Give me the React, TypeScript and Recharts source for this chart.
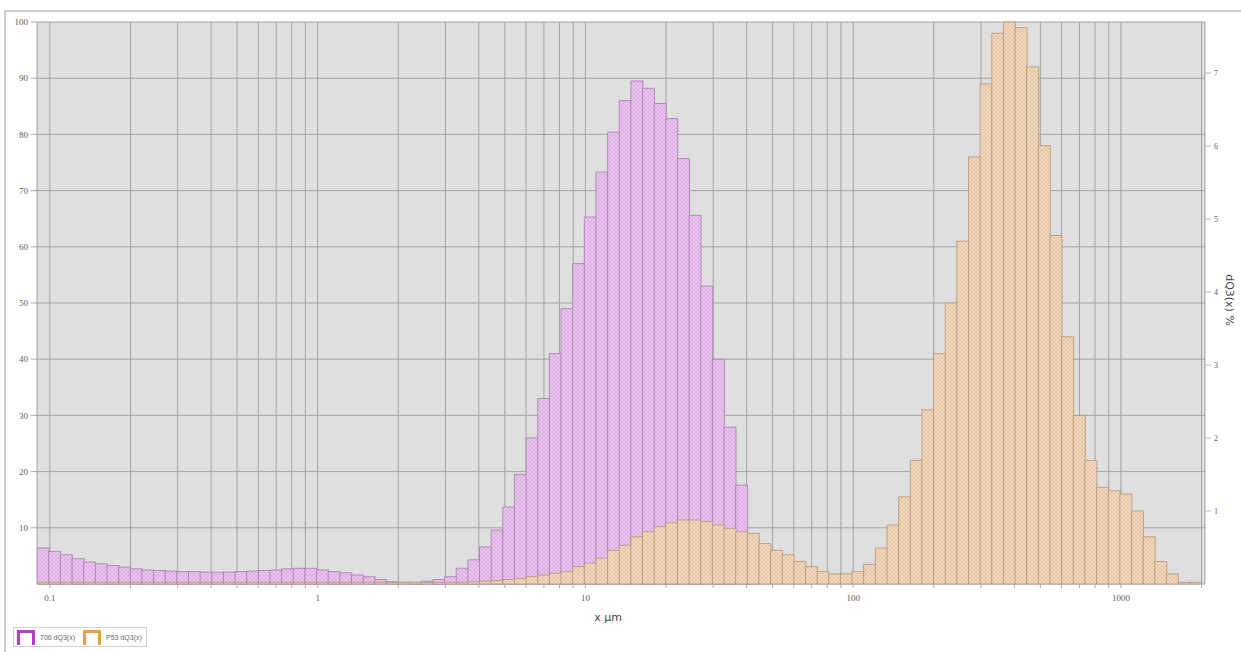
import React from 'react';
import { ComposedChart, Bar, XAxis, YAxis, CartesianGrid, Label } from 'recharts';

// bin centres, µm (log-spaced classes)
const sizes = [
  0.09417, 0.1041, 0.1150, 0.1272, 0.1406, 0.1554, 0.1717, 0.1898, 0.2098, 0.2319, 0.2563, 0.2833,
  0.3131, 0.3461, 0.3825, 0.4228, 0.4673, 0.5165, 0.5709, 0.6310, 0.6974, 0.7709, 0.8521,
  0.9417, 1.041, 1.150, 1.272, 1.406, 1.554, 1.717, 1.898, 2.098, 2.319, 2.563, 2.833,
  3.131, 3.461, 3.825, 4.228, 4.673, 5.165, 5.709, 6.310, 6.974, 7.709, 8.521,
  9.417, 10.41, 11.50, 12.72, 14.06, 15.54, 17.17, 18.98, 20.98, 23.19, 25.63, 28.33,
  31.31, 34.61, 38.25, 42.28, 46.73, 51.65, 57.09, 63.10, 69.74, 77.09, 85.21,
  94.17, 104.1, 115.0, 127.2, 140.6, 155.4, 171.7, 189.8, 209.8, 231.9, 256.3, 283.3,
  313.1, 346.1, 382.5, 422.8, 467.3, 516.5, 570.9, 631.0, 697.4, 770.9, 852.1,
  941.7, 1041, 1150, 1272, 1406, 1554, 1717, 1898,
];

const sample706 = [
  6.4, 5.8, 5.2, 4.5, 3.9, 3.6, 3.3, 3.0, 2.7, 2.5,
  2.4, 2.3, 2.2, 2.2, 2.1, 2.1, 2.1, 2.2, 2.3, 2.4,
  2.5, 2.7, 2.8, 2.8, 2.5, 2.2, 2.0, 1.6, 1.3, 0.8,
  0.4, 0.3, 0.3, 0.5, 0.8, 1.3, 2.8, 4.3, 6.6, 9.6,
  13.7, 19.5, 26, 33, 41, 49, 57, 65.3, 73.3, 80.4,
  86, 89.5, 88.2, 85.5, 82.8, 75.7, 65.6, 53, 40, 27.9,
  17.6, 1.0, 0, 0, 0, 0, 0, 0, 0, 0,
  0, 0, 0, 0, 0, 0, 0, 0, 0, 0,
  0, 0, 0, 0, 0, 0, 0, 0, 0, 0,
  0, 0, 0, 0, 0, 0, 0, 0, 0, 0,
];

const sampleP53 = [
  0.3, 0.3, 0.3, 0.3, 0.3, 0.3, 0.3, 0.3, 0.3, 0.3,
  0.3, 0.3, 0.3, 0.3, 0.3, 0.3, 0.3, 0.3, 0.3, 0.3,
  0.3, 0.3, 0.3, 0.3, 0.3, 0.3, 0.3, 0.3, 0.3, 0.3,
  0.3, 0.3, 0.3, 0.3, 0.3, 0.3, 0.3, 0.4, 0.5, 0.6,
  0.8, 1.0, 1.3, 1.6, 1.9, 2.2, 3.1, 3.7, 4.6, 6.0,
  6.9, 8.4, 9.3, 10.2, 10.9, 11.4, 11.4, 11.1, 10.5, 9.9,
  9.3, 9.0, 7.2, 6.0, 5.2, 4.0, 3.1, 2.2, 1.8, 1.8,
  2.2, 3.5, 6.4, 10.5, 15.5, 22, 31, 41, 50, 61,
  76, 89, 98, 100, 99, 92, 78, 62, 44, 30,
  22, 17.2, 16.6, 16, 13, 8.4, 4.0, 1.8, 0.3, 0.3,
];

const xTicks = [
  0.1, 0.2, 0.3, 0.4, 0.5, 0.6, 0.7, 0.8, 0.9,
  1, 2, 3, 4, 5, 6, 7, 8, 9,
  10, 20, 30, 40, 50, 60, 70, 80, 90,
  100, 200, 300, 400, 500, 600, 700, 800, 900,
  1000, 2000,
];
const xLabelled = [0.1, 1, 10, 100, 1000];
const leftTicks = [10, 20, 30, 40, 50, 60, 70, 80, 90, 100];
const rightTicks = [1, 2, 3, 4, 5, 6, 7];

const seriesNames = ['706 dQ3(x)', 'P53 dQ3(x)'];
const seriesColors = ['#b43cc8', '#e0a445'];

const data = sizes.map((size, i) => ({ size, a: sample706[i], b: sampleP53[i] }));

const X_DOMAIN = [0.0895, 2060];
const tickStyle = { fill: '#5c5c5c', fontSize: 9, fontFamily: '"Liberation Serif", serif' };

function LegendIcon({ color }: { color: string }) {
  return (
    <div
      style={{
        width: 12,
        height: 12,
        borderTop: `3px solid ${color}`,
        borderLeft: `3px solid ${color}`,
        borderRight: `3px solid ${color}`,
        marginRight: 5,
      }}
    />
  );
}

export default function App() {
  return (
    <div style={{ position: 'absolute', left: 0, top: 0, width: 1241, height: 652, background: '#fff', overflow: 'hidden' }}>
      <div
        style={{
          position: 'absolute', left: 4, top: 10, right: -4, bottom: -4,
          borderTop: '2px solid #cfcfcf', borderLeft: '2px solid #cfcfcf',
        }}
      />
      <div style={{ position: 'absolute', left: 0, top: 0 }}>
        <ComposedChart
          width={1241}
          height={652}
          data={data}
          margin={{ top: 22, right: 0, bottom: 28, left: 0 }}
          barCategoryGap={0}
          barGap={0}
        >
          <defs>
            <pattern id="hatchPurple" width="4" height="4" patternUnits="userSpaceOnUse">
              <rect width="4" height="4" fill="#ebc5f0" />
              <path d="M0,0 L4,4 M4,0 L0,4" stroke="#d3a1dd" strokeWidth="0.6" />
            </pattern>
            <pattern id="hatchOrange" width="4" height="4" patternUnits="userSpaceOnUse">
              <rect width="4" height="4" fill="#f3d9c0" />
              <path d="M0,0 L4,4 M4,0 L0,4" stroke="#dfb994" strokeWidth="0.6" />
            </pattern>
          </defs>
          <CartesianGrid xAxisId="log" yAxisId="left" fill="#dfdfdf" stroke="#a3a3a3" />
          <XAxis
            xAxisId="log"
            type="number"
            scale="log"
            dataKey="size"
            domain={X_DOMAIN}
            allowDataOverflow
            ticks={xTicks}
            interval={0}
            tickFormatter={(v: number) => (xLabelled.includes(v) ? String(v) : '')}
            tick={tickStyle}
            tickSize={4}
            tickMargin={7}
            tickLine={{ stroke: '#aaa' }}
            axisLine={false}
            height={40}
          >
            <Label
              content={(props: any) => {
                const vb = props.viewBox;
                return (
                  <text
                    x={vb.x + vb.width / 2 - 13}
                    y={vb.y + 37}
                    textAnchor="middle"
                    fill="#444"
                    fontSize={11}
                    fontFamily='"DejaVu Sans", sans-serif'
                  >
                    x µm
                  </text>
                );
              }}
            />
          </XAxis>
          <XAxis xAxisId="p" type="number" scale="log" dataKey="size" domain={X_DOMAIN} allowDataOverflow hide />
          <XAxis xAxisId="o" type="number" scale="log" dataKey="size" domain={X_DOMAIN} allowDataOverflow hide />
          <YAxis
            yAxisId="left"
            domain={[0, 100]}
            ticks={leftTicks}
            interval={0}
            width={37}
            tick={tickStyle}
            tickSize={6}
            tickMargin={3}
            tickLine={{ stroke: '#aaa' }}
            axisLine={false}
          />
          <YAxis
            yAxisId="right"
            orientation="right"
            domain={[0, 7.7]}
            allowDataOverflow
            ticks={rightTicks}
            interval={0}
            width={36}
            tick={{ ...tickStyle, fontSize: 8 }}
            tickSize={6}
            tickMargin={3}
            tickLine={{ stroke: '#bbb' }}
            axisLine={false}
          >
            <Label
              content={(props: any) => {
                const vb = props.viewBox;
                const cx = vb.x + 24;
                const cy = vb.y + vb.height / 2 - 3;
                return (
                  <text
                    x={cx}
                    y={cy}
                    transform={`rotate(90 ${cx} ${cy})`}
                    textAnchor="middle"
                    dominantBaseline="central"
                    fill="#444"
                    fontSize={11}
                    fontFamily='"DejaVu Sans", sans-serif'
                  >
                    dQ3(x) %
                  </text>
                );
              }}
            />
          </YAxis>
          <Bar
            xAxisId="p"
            yAxisId="left"
            dataKey="a"
            name={seriesNames[0]}
            fill="url(#hatchPurple)"
            stroke="#a57aab"
            strokeWidth={0.8}
            isAnimationActive={false}
          />
          <Bar
            xAxisId="o"
            yAxisId="left"
            dataKey="b"
            name={seriesNames[1]}
            fill="url(#hatchOrange)"
            stroke="#b49473"
            strokeWidth={0.8}
            isAnimationActive={false}
          />
        </ComposedChart>
      </div>
      <div
        style={{
          position: 'absolute', left: 13, top: 627, width: 134, height: 20,
          border: '1px solid #cfcfcf', background: '#fff', boxSizing: 'border-box',
          display: 'flex', alignItems: 'center', paddingLeft: 3,
          fontFamily: '"Liberation Sans", sans-serif', fontSize: 7, color: '#6a6a6a',
        }}
      >
        <LegendIcon color={seriesColors[0]} />
        <span style={{ marginRight: 8 }}>{seriesNames[0]}</span>
        <LegendIcon color={seriesColors[1]} />
        <span>{seriesNames[1]}</span>
      </div>
    </div>
  );
}
